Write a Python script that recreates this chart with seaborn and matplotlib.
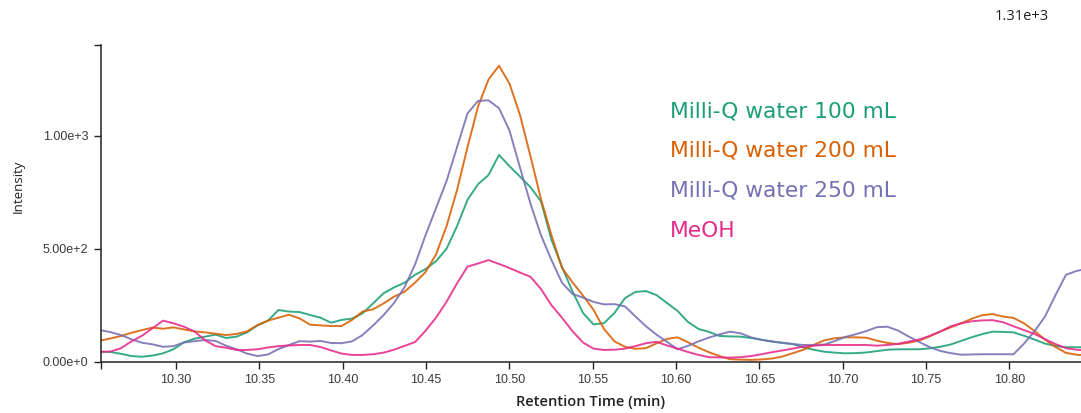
import numpy as np
import pandas as pd
import matplotlib
matplotlib.use("Agg")
import matplotlib.pyplot as plt
import seaborn as sns

# ---------------- data ----------------
times = [10.2544, 10.2607, 10.2670, 10.2733, 10.2796, 10.2859, 10.2922, 10.2985, 10.3048, 10.3111,
         10.3174, 10.3237, 10.3300, 10.3363, 10.3426, 10.3489, 10.3552, 10.3615, 10.3678, 10.3741,
         10.3804, 10.3867, 10.3930, 10.3993, 10.4056, 10.4119, 10.4182, 10.4245, 10.4308, 10.4371,
         10.4434, 10.4497, 10.4560, 10.4623, 10.4686, 10.4749, 10.4812, 10.4875, 10.4938, 10.5001,
         10.5064, 10.5127, 10.5190, 10.5253, 10.5316, 10.5379, 10.5442, 10.5505, 10.5568, 10.5631,
         10.5694, 10.5757, 10.5820, 10.5883, 10.5946, 10.6009, 10.6072, 10.6135, 10.6198, 10.6261,
         10.6324, 10.6387, 10.6450, 10.6513, 10.6576, 10.6639, 10.6702, 10.6765, 10.6828, 10.6891,
         10.6954, 10.7017, 10.7080, 10.7143, 10.7206, 10.7269, 10.7332, 10.7395, 10.7458, 10.7521,
         10.7584, 10.7647, 10.7710, 10.7773, 10.7836, 10.7899, 10.7962, 10.8025, 10.8088, 10.8151,
         10.8214, 10.8277, 10.8340, 10.8403, 10.8466]

water_100 = [44, 43, 35, 25, 22, 27, 37, 55, 86, 102,
             111, 120, 105, 111, 130, 161, 182, 229, 222, 220,
             207, 195, 173, 185, 191, 214, 258, 303, 329, 350,
             385, 410, 445, 500, 600, 717, 786, 827, 916, 866,
             820, 773, 710, 540, 420, 311, 216, 165, 171, 216,
             282, 309, 313, 295, 260, 225, 176, 145, 132, 114,
             112, 111, 105, 97, 89, 83, 78, 63, 53, 44,
             40, 37, 38, 41, 47, 53, 55, 55, 55, 59,
             66, 76, 92, 108, 122, 133, 132, 130, 115, 98,
             80, 70, 64, 64, 64]

water_200 = [93, 103, 114, 128, 140, 151, 146, 152, 143, 134,
             130, 124, 118, 123, 134, 162, 182, 195, 208, 192,
             164, 161, 158, 158, 185, 222, 232, 258, 288, 310,
             350, 397, 475, 600, 760, 950, 1130, 1250, 1311, 1232,
             1093, 910, 720, 560, 415, 352, 293, 230, 145, 90,
             66, 57, 60, 81, 101, 108, 86, 62, 42, 25,
             11, 9, 8, 10, 14, 23, 38, 53, 75, 95,
             104, 108, 108, 106, 93, 83, 78, 84, 93, 112,
             133, 152, 170, 190, 206, 211, 200, 194, 170, 136,
             98, 65, 39, 31, 28]

water_250 = [140, 131, 118, 99, 84, 77, 66, 69, 85, 91,
             96, 92, 71, 55, 36, 25, 32, 56, 74, 91,
             89, 92, 83, 82, 90, 118, 160, 206, 260, 330,
             430, 560, 680, 800, 950, 1100, 1155, 1158, 1123, 1024,
             860, 700, 560, 450, 350, 300, 284, 265, 254, 255,
             245, 200, 157, 120, 88, 55, 70, 90, 107, 121,
             133, 126, 108, 97, 90, 84, 78, 74, 74, 76,
             92, 110, 122, 136, 153, 155, 138, 112, 88, 65,
             48, 38, 31, 32, 33, 33, 33, 33, 80, 135,
             200, 295, 385, 402, 412]

meoh = [44, 45, 60, 90, 115, 148, 182, 170, 155, 134,
        95, 69, 62, 52, 52, 55, 63, 69, 72, 74,
        74, 65, 50, 36, 30, 30, 33, 40, 53, 70,
        87, 137, 195, 265, 347, 421, 435, 450, 433, 415,
        395, 376, 322, 250, 195, 135, 85, 58, 52, 53,
        58, 69, 82, 88, 72, 58, 43, 30, 20, 19,
        18, 20, 25, 33, 42, 50, 58, 67, 71, 74,
        74, 74, 74, 74, 71, 74, 79, 89, 98, 114,
        133, 156, 170, 179, 183, 184, 175, 157, 140, 123,
        100, 78, 60, 53, 50]

series_names = ["Milli-Q water 100 mL", "Milli-Q water 200 mL",
                "Milli-Q water 250 mL", "MeOH"]
series_values = [water_100, water_200, water_250, meoh]
series_colors = ["#1b9e77", "#d95f02", "#7570b3", "#e7298a"]

y_ticks = [0, 500, 1000]
y_tick_labels = ["0.00e+0", "5.00e+2", "1.00e+3"]
x_ticks = [10.30, 10.35, 10.40, 10.45, 10.50, 10.55, 10.60, 10.65, 10.70, 10.75, 10.80]
x_tick_labels = ["10.30", "10.35", "10.40", "10.45", "10.50", "10.55",
                 "10.60", "10.65", "10.70", "10.75", "10.80"]
max_label = "1.31e+3"

# ---------------- frame ----------------
frames = []
for name, vals in zip(series_names, series_values):
    frames.append(pd.DataFrame({"time": times, "intensity": vals, "sample": name}))
df = pd.concat(frames, ignore_index=True)

sns.set_style("ticks")
plt.rcParams["font.family"] = ["Liberation Sans", "DejaVu Sans"]

W, H = 1081, 413
fig = plt.figure(figsize=(W / 100, H / 100), dpi=100)
fig.patch.set_facecolor("white")
ax_left, ax_right, ax_top, ax_bottom = 101, 1081, 45, 361.7
ax = fig.add_axes([ax_left / W, 1 - ax_bottom / H,
                   (ax_right - ax_left) / W, (ax_bottom - ax_top) / H])

sns.lineplot(data=df, x="time", y="intensity", hue="sample",
             palette=dict(zip(series_names, series_colors)),
             hue_order=series_names, estimator=None, sort=False,
             linewidth=1.4, alpha=0.88, legend=False, ax=ax)

xmin, xmax = 10.255, 10.843
ymax = 1403
ax.set_xlim(xmin, xmax)
ax.set_ylim(0, ymax)

ax.set_yticks(y_ticks + [ymax])
ax.set_yticklabels(y_tick_labels + [""])
ax.set_xticks([xmin] + x_ticks)
ax.set_xticklabels([""] + x_tick_labels)

for s in ["top", "right"]:
    ax.spines[s].set_visible(False)
for s in ["left", "bottom"]:
    ax.spines[s].set_color("#222222")
    ax.spines[s].set_linewidth(1.1)
ax.tick_params(axis="both", direction="out", length=5, width=1.0,
               color="#222222", labelsize=9, labelcolor="#3a3a3a")
ax.tick_params(axis="x", pad=4)
ax.tick_params(axis="y", pad=4)

ax.set_xlabel("Retention Time (min)", fontsize=10.5, fontweight="semibold",
              color="#222222", family=["Open Sans", "DejaVu Sans"])
ax.set_ylabel("Intensity", fontsize=9.5, color="#222222",
              family=["Open Sans", "DejaVu Sans"])
ax.xaxis.label.set_va("center")
ax.yaxis.label.set_va("center")
ax.xaxis.set_label_coords(0.5, (ax_bottom - 402) / (ax_bottom - ax_top))
ax.yaxis.set_label_coords((18 - ax_left) / (ax_right - ax_left),
                          (ax_bottom - 186) / (ax_bottom - ax_top))

# legend-like coloured labels
baselines = [117.3, 156.7, 196.7, 236.7]
for name, col, yb in zip(series_names, series_colors, baselines):
    fig.text(670 / W, 1 - yb / H, name, color=col, fontsize=15.7,
             family=["DejaVu Sans"], ha="left", va="baseline")

fig.text(1022 / W, 1 - 17 / H, max_label, fontsize=10.5, color="#222222",
         ha="center", va="center", family=["Open Sans", "DejaVu Sans"])

fig.savefig("out.png", dpi=100, facecolor="white")
